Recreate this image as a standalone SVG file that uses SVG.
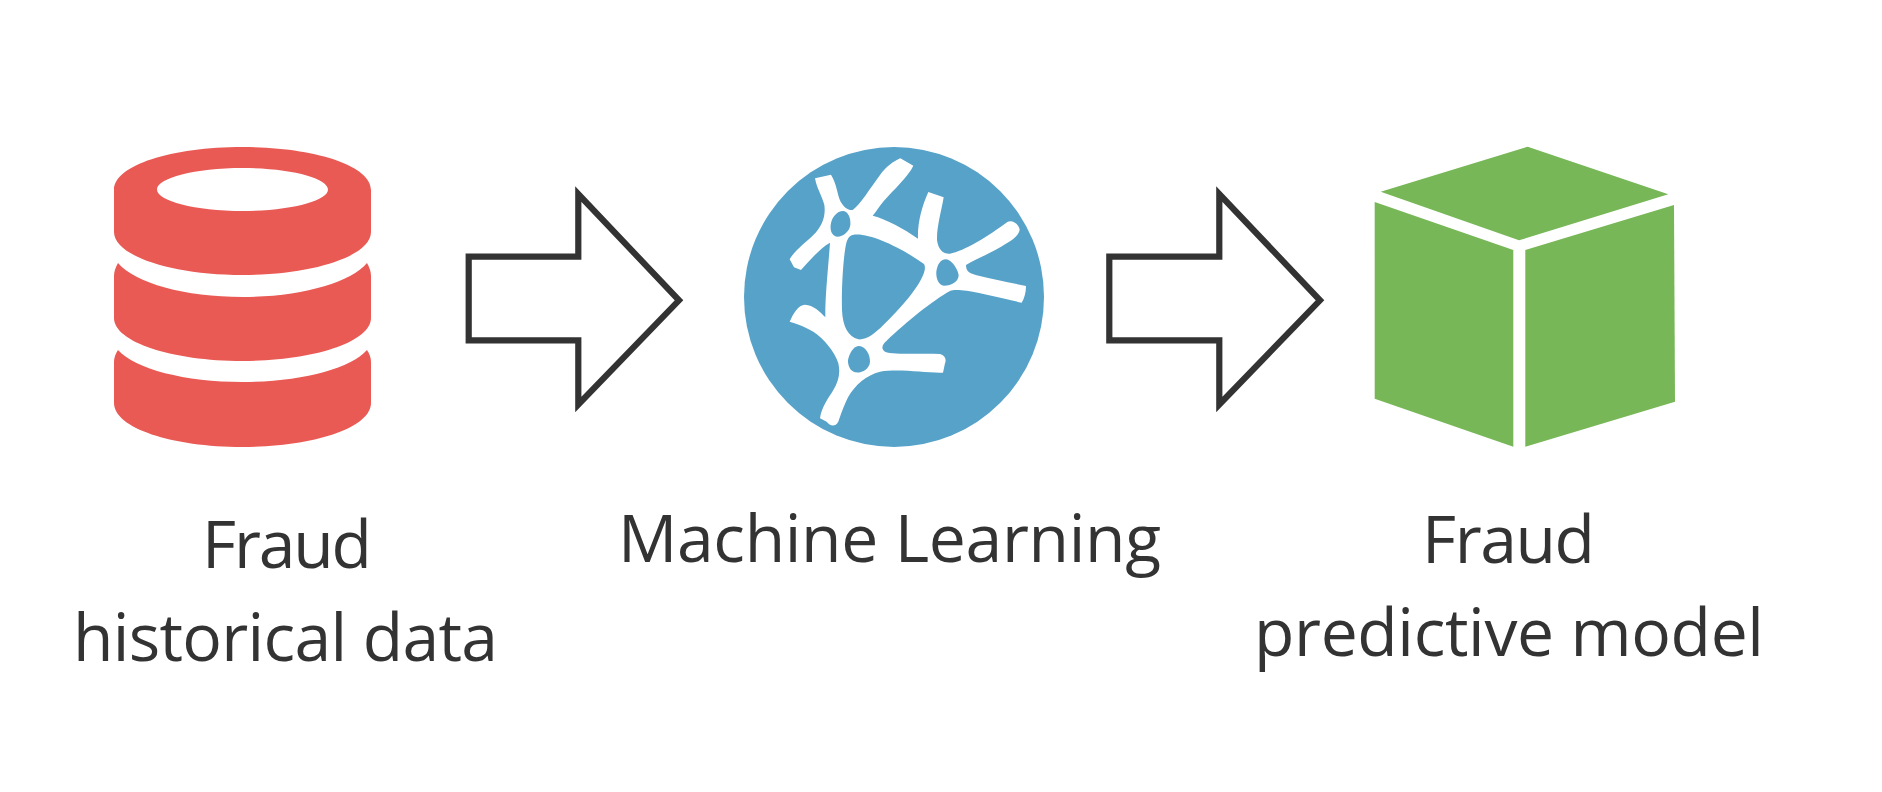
<svg xmlns="http://www.w3.org/2000/svg" width="1882" height="792" viewBox="0 0 1882 792">
<style>
.lbl{font-family:"Open Sans","Noto Sans","Liberation Sans",sans-serif;font-size:66px;fill:#333;}
.arrow{fill:#fff;stroke:#333;stroke-width:6.2;stroke-miterlimit:10;}
.red{fill:#EA5A55;}
.blue{fill:#57A2C8;}
.green{fill:#77B757;}
</style>
<rect width="1882" height="792" fill="#fff"/>
<g id="connectors">
<path class="arrow" d="M468.7,256.7H578.3V194L679,300.3L578.3,404.5V340.3H468.7Z"/>
<path class="arrow" d="M1109.3,256.7H1219.3V194L1320,300.3L1219.3,404.5V340.3H1109.3Z"/>
</g>
<g id="node-data">
<path class="red" fill-rule="evenodd" d="M114,190C114,165 172,147 242.5,147C313,147 371,165 371,190V232C371,256 313,275 242.5,275C172,275 114,256 114,232ZM157,189.5C157,201 195,211 242.5,211C290,211 328,201 328,189.5C328,178 290,168 242.5,168C195,168 157,178 157,189.5Z"/>
<path class="red" d="M118,263C135,283 185,297 242.5,297C300,297 350,283 367,263Q371,270 371,276V318C371,342 313,361 242.5,361C172,361 114,342 114,318V276Q114,270 118,263Z"/>
<path class="red" d="M118,350C135,369 185,382 242.5,382C300,382 350,369 367,350Q371,356 371,362V403C371,428 313,447 242.5,447C172,447 114,428 114,403V362Q114,356 118,350Z"/>
<text class="lbl" x="202" y="568" textLength="170" lengthAdjust="spacing">Fraud</text>
<text class="lbl" x="73" y="660.7" textLength="425" lengthAdjust="spacing">historical data</text>
</g>
<g id="node-ml">
<circle class="blue" cx="894" cy="297" r="150"/>
<g transform="translate(720 130) scale(.33333)">
<path fill="#fff" d="M285,145L333,134C350,160 352,195 362,215C372,232 385,242 398,240C420,225 450,175 480,135C500,108 520,95 541,85L580,107C565,140 520,180 492,212C480,226 468,245 458,257C500,268 550,295 594,326C592,280 605,230 625,186L671,202C665,240 650,290 651,330C655,360 670,372 690,371C730,365 810,315 862,276C875,268 895,280 899,298C898,315 880,328 860,340C820,368 770,385 738,405C738,425 750,430 770,436C820,448 870,458 918,468C918,485 914,505 905,518C860,508 790,490 740,482C720,480 700,478 690,483C640,510 560,575 500,632C485,645 483,657 495,665C520,675 600,670 660,672C675,675 680,690 675,700L669,728C620,730 540,715 480,725C440,735 405,765 385,800C372,825 360,860 355,875C345,892 330,888 320,875L300,865C305,830 325,805 340,780C355,755 362,730 355,700C345,665 310,625 280,605C258,592 235,583 209,575C220,550 235,525 255,524C280,525 300,545 316,562C315,500 325,410 330,338C300,355 270,390 243,420L222,412L209,388C225,360 255,340 280,315C305,290 318,260 313,225C305,195 290,175 285,145Z"/>
<path class="blue" d="M398,315C440,305 540,350 612,402C620,415 610,440 590,470C560,515 520,555 490,585C465,610 440,630 415,628C385,620 368,590 366,540C364,480 370,370 380,335C385,322 390,317 398,315Z"/>
<path class="blue" d="M370,243C385,245 393,265 391,285C388,305 370,320 352,320C335,318 330,300 332,285C335,262 350,243 370,243Z"/>
<path class="blue" d="M678,388C695,390 712,415 716,435C716,455 695,467 672,467C655,465 648,445 649,425C652,405 660,388 678,388Z"/>
<path class="blue" d="M418,648C435,650 450,670 450,695C448,718 425,730 405,727C390,723 383,705 384,690C388,670 400,648 418,648Z"/>
</g>
<text class="lbl" x="618" y="561.7" textLength="543" lengthAdjust="spacing">Machine Learning</text>
</g>
<g id="node-model">
<polygon class="green" points="1527.7,146.7 1668.3,194.3 1519,240.3 1380.7,191.7"/>
<polygon class="green" points="1374.7,202 1513.3,250 1513.3,446.7 1374.7,398.7"/>
<polygon class="green" points="1525.3,250 1674,205 1675,401.7 1525.3,446.7"/>
<text class="lbl" x="1422" y="562.7" textLength="173" lengthAdjust="spacing">Fraud</text>
<text class="lbl" x="1254" y="655.7" textLength="510" lengthAdjust="spacing">predictive model</text>
</g>
</svg>
